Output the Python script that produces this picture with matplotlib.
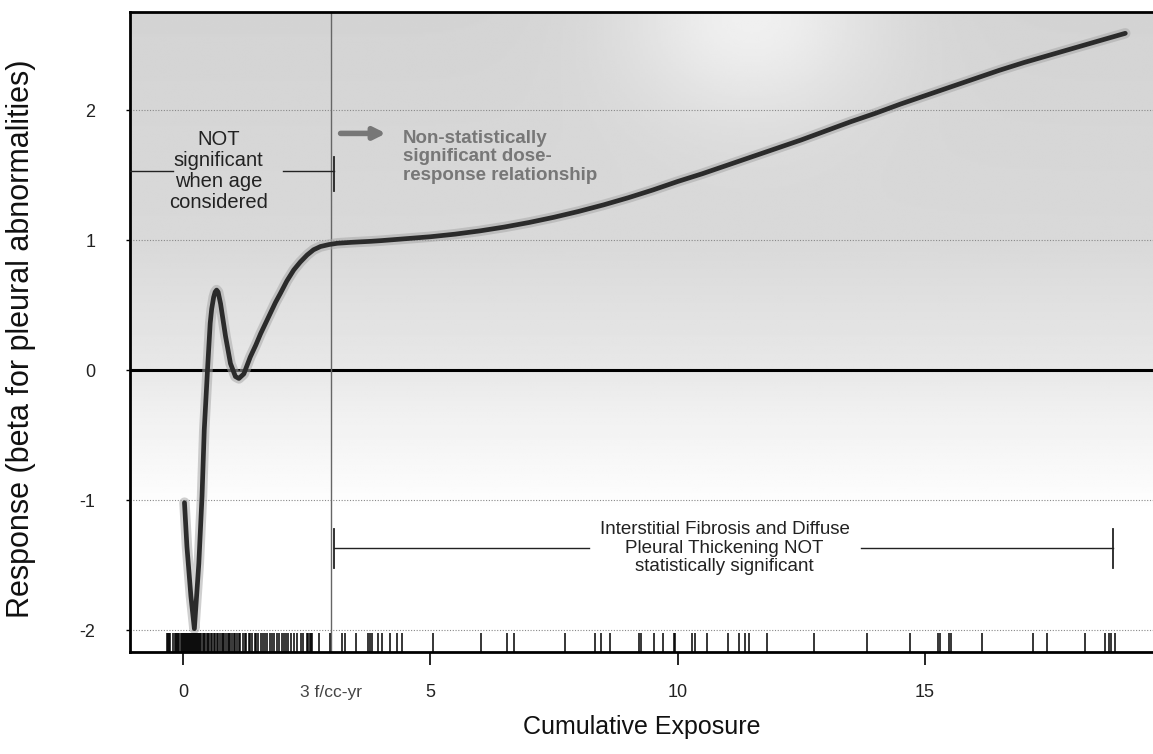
import numpy as np
import matplotlib
matplotlib.use("Agg")
import matplotlib.pyplot as plt

plt.rcParams['font.family'] = ['Liberation Sans', 'DejaVu Sans']

# ---- data ----
curve_x = [0.03, 0.08, 0.16, 0.23, 0.32, 0.385, 0.43, 0.50, 0.55, 0.58, 0.62, 0.65,
           0.68, 0.71, 0.76, 0.86, 0.96, 1.06, 1.13, 1.23, 1.36, 1.47, 1.57, 1.67,
           1.77, 1.87, 1.97, 2.10, 2.24, 2.37, 2.51, 2.64, 2.78, 2.95, 3.12, 3.4,
           3.8, 4.0, 4.5, 5.0, 5.5, 6.0, 6.5, 7.0, 7.5, 8.0, 8.5, 9.0, 9.5, 10.0,
           10.5, 11.0, 11.5, 12.0, 12.5, 13.0, 13.5, 14.0, 14.5, 15.0, 15.5, 16.0,
           16.5, 17.0, 17.5, 18.0, 18.5, 19.05]
curve_y = [-1.02, -1.36, -1.74, -1.99, -1.49, -0.97, -0.46, 0.03, 0.36, 0.47, 0.56, 0.60,
           0.615, 0.60, 0.51, 0.26, 0.05, -0.05, -0.065, -0.03, 0.10, 0.19, 0.28, 0.36,
           0.44, 0.52, 0.59, 0.685, 0.77, 0.83, 0.885, 0.925, 0.95, 0.965, 0.975, 0.982,
           0.99, 0.995, 1.01, 1.025, 1.045, 1.07, 1.10, 1.135, 1.175, 1.22, 1.27, 1.325,
           1.385, 1.45, 1.51, 1.575, 1.64, 1.705, 1.77, 1.84, 1.91, 1.975, 2.045, 2.11,
           2.175, 2.24, 2.305, 2.365, 2.42, 2.475, 2.53, 2.59]

rug_x = [-0.32, -0.30, -0.28, -0.26, -0.20, -0.17, -0.15, -0.12, -0.10, -0.08, -0.05,
         -0.03, 0.0, 0.02, 0.04, 0.06, 0.08, 0.10, 0.12, 0.14, 0.16, 0.18, 0.20,
         0.22, 0.24, 0.26, 0.28, 0.30, 0.32, 0.35, 0.37, 0.40, 0.42, 0.45, 0.48,
         0.50, 0.53, 0.56, 0.58, 0.62, 0.65, 0.68, 0.70, 0.74, 0.78, 0.80, 0.83,
         0.86, 0.90, 0.93, 0.96, 1.00, 1.03, 1.06, 1.10, 1.13, 1.16, 1.22, 1.25,
         1.28, 1.33, 1.36, 1.40, 1.45, 1.48, 1.52, 1.58, 1.62, 1.66, 1.70, 1.76,
         1.80, 1.84, 1.90, 1.95, 2.00, 2.05, 2.08, 2.12, 2.18, 2.25, 2.30, 2.38,
         2.42, 2.50, 2.53, 2.56, 2.58, 2.60, 2.75, 2.97,
         3.22, 3.27, 3.49, 3.74, 3.78, 3.83, 3.95, 4.02, 4.19, 4.32, 4.42, 5.05,
         6.03, 6.55, 6.70, 7.72, 8.33, 8.46, 8.64, 9.21, 9.26, 9.52, 9.70, 9.93,
         9.95, 10.30, 10.36, 10.59, 11.01, 11.24, 11.37, 11.44, 11.80, 12.76,
         13.83, 14.70, 15.26, 15.31, 15.49, 15.53, 16.15, 17.19, 17.46, 18.23,
         18.63, 18.72, 18.76, 18.84]

x_ticks = [0, 5, 10, 15]
x_ticklabels = ["0", "5", "10", "15"]
y_ticks = [-2, -1, 0, 1, 2]
y_ticklabels = ["-2", "-1", "0", "1", "2"]

cutoff = 3.0
cutoff_label = "3 f/cc-yr"
xlabel = "Cumulative Exposure"
ylabel = "Response (beta for pleural abnormalities)"

# ---- figure ----
fig = plt.figure(figsize=(11.53, 7.54), dpi=100)
ax = fig.add_axes([0.1128, 0.1353, 0.8872, 0.8488])
xmin, xmax = -1.07, 19.61
ymin, ymax = -2.169, 2.754
ax.set_xlim(xmin, xmax)
ax.set_ylim(ymin, ymax)

# background shading
gx = np.linspace(xmin, xmax, 400)
gy = np.linspace(ymin, ymax, 300)
GX, GY = np.meshgrid(gx, gy)
base = np.interp(GY, [ymin, -1.1, -0.3, 0.0, 1.0, ymax], [1.0, 1.0, 0.94, 0.91, 0.85, 0.83])
blob = 0.11 * np.exp(-(((GX - 11.5) / 2.6) ** 2 + ((GY - 2.75) / 0.8) ** 2))
shade = np.clip(base + blob, 0, 1)
ax.imshow(shade, extent=[xmin, xmax, ymin, ymax], origin='lower', cmap='gray',
          vmin=0, vmax=1, aspect='auto', zorder=0, interpolation='bilinear')

# grid
for yv in [-2, -1, 1, 2]:
    ax.axhline(yv, color='#888888', lw=0.8, ls=(0, (1, 1.5)), zorder=1)
ax.axhline(0, color='black', lw=2.2, zorder=2)
ax.axvline(cutoff, color='#666666', lw=1.0, zorder=2)

# curve with soft shadow
ax.plot(curve_x, curve_y, color='#a8a8a8', lw=7.5, alpha=0.55, zorder=3,
        solid_capstyle='round', solid_joinstyle='round')
ax.plot(curve_x, curve_y, color='#2b2b2b', lw=3.4, zorder=4,
        solid_capstyle='round', solid_joinstyle='round')

# rug
ax.vlines(rug_x, ymin, -2.025, color='black', lw=1.1, zorder=3)

# annotations
ax.text(0.72, 1.53, "NOT\nsignificant\nwhen age\nconsidered", ha='center', va='center',
        fontsize=14.5, color='#222222', linespacing=1.12, zorder=5)
ax.plot([xmin, -0.21], [1.527, 1.527], color='#222222', lw=1.0, zorder=5)
ax.plot([2.03, 3.05], [1.527, 1.527], color='#222222', lw=1.0, zorder=5)
ax.plot([3.05, 3.05], [1.38, 1.64], color='#222222', lw=1.3, zorder=5)

ax.annotate("", xy=(4.16, 1.82), xytext=(3.13, 1.82),
            arrowprops=dict(arrowstyle='-|>', color='#777777', lw=4,
                            mutation_scale=17), zorder=5)
ax.text(4.45, 1.64, "Non-statistically\nsignificant dose-\nresponse relationship",
        ha='left', va='center', fontsize=13.5, fontweight='bold', color='#777777',
        linespacing=1.12, zorder=5)

ax.text(10.95, -1.37, "Interstitial Fibrosis and Diffuse\nPleural Thickening NOT\nstatistically significant",
        ha='center', va='center', fontsize=13.5, color='#222222', linespacing=1.12, zorder=5)
ax.plot([3.05, 8.2], [-1.37, -1.37], color='#222222', lw=1.0, zorder=5)
ax.plot([13.7, 18.8], [-1.37, -1.37], color='#222222', lw=1.0, zorder=5)
ax.plot([3.05, 3.05], [-1.22, -1.52], color='#222222', lw=1.3, zorder=5)
ax.plot([18.8, 18.8], [-1.22, -1.52], color='#222222', lw=1.3, zorder=5)

# axes styling
ax.set_xticks(x_ticks)
ax.set_xticklabels(x_ticklabels, fontsize=13, color='#222222')
ax.set_yticks(y_ticks)
ax.set_yticklabels(y_ticklabels, fontsize=13, color='#222222')
ax.tick_params(axis='x', direction='out', length=9, width=1.2, pad=14)
ax.tick_params(axis='y', direction='out', length=3, width=1.0, pad=22)
ax.text(cutoff, -2.48, cutoff_label, ha='center', va='center', fontsize=12.5,
        color='#444444', zorder=5, clip_on=False)
for s in ['left', 'bottom', 'top']:
    ax.spines[s].set_linewidth(2.0)
    ax.spines[s].set_color('black')
ax.spines['right'].set_visible(False)

ax.set_xlabel(xlabel, fontsize=18, labelpad=10, color='#111111')
ax.set_ylabel(ylabel, fontsize=22, color='#111111')
ax.yaxis.set_label_coords(-0.092, 0.49)

fig.savefig("out.png", dpi=100)
